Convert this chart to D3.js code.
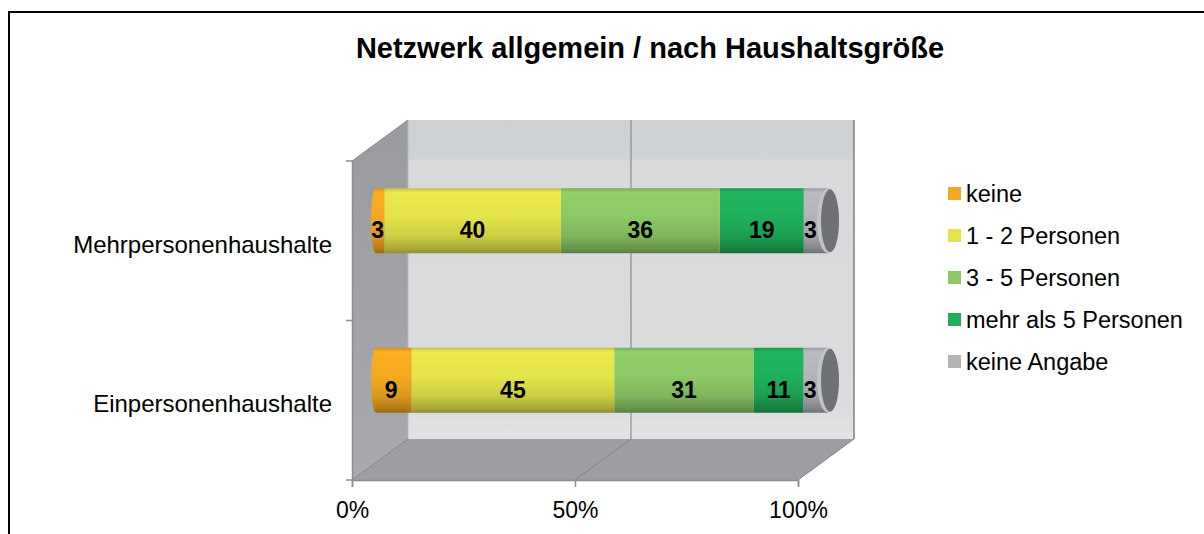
<!DOCTYPE html>
<html>
<head>
<meta charset="utf-8">
<title>Netzwerk allgemein / nach Haushaltsgröße</title>
<script src="https://cdn.jsdelivr.net/npm/d3@7"></script>
<style>
  * { margin: 0; padding: 0; }
  body { background: #fff; }
  svg { display: block; font-family: "Liberation Sans", Arial, sans-serif; }
</style>
</head>
<body>
<script>
//Data
var categories = ["Mehrpersonenhaushalte", "Einpersonenhaushalte"];
var seriesNames = ["keine", "1 - 2 Personen", "3 - 5 Personen", "mehr als 5 Personen", "keine Angabe"];
var keine = [3, 9];
var einsBisZwei = [40, 45];
var dreiBisFuenf = [36, 31];
var mehrAlsFuenf = [19, 11];
var keineAngabe = [3, 3];
var seriesColors = ["#F2A920", "#E3E34B", "#8CC865", "#1FAF5A", "#B2B4B8"];
var xTicks = [0, 0.5, 1];

//Layout
var w = 1204, h = 534;
var front = {left: 352, right: 798, top: 161, bottom: 480}; //front face of the 3d box
var depth = {dx: 56, dy: -41};                               //offset to the back wall
var barDx = 19, barDy = -20, barH = 65, capRx = 11;

//Build table for the stack
var rows = categories.map(function(c, i) {
  var r = {cat: c};
  r[seriesNames[0]] = keine[i];
  r[seriesNames[1]] = einsBisZwei[i];
  r[seriesNames[2]] = dreiBisFuenf[i];
  r[seriesNames[3]] = mehrAlsFuenf[i];
  r[seriesNames[4]] = keineAngabe[i];
  return r;
});
var stacked = d3.stack().keys(seriesNames).offset(d3.stackOffsetExpand)(rows);

//Scales
var xFront = d3.scaleLinear().domain([0, 1]).range([front.left, front.right]);
var xBar = d3.scaleLinear().domain([0, 1]).range([front.left + barDx, front.right + barDx]);
var yBand = d3.scaleBand().domain(categories).range([front.top, front.bottom]);
var color = d3.scaleOrdinal().domain(seriesNames).range(seriesColors);
function barMid(c) { return yBand(c) + yBand.bandwidth() / 2 + barDy; }

var svg = d3.select("body").append("svg")
  .attr("width", w)
  .attr("height", h);

//Gradients
var defs = svg.append("defs");
function vGrad(id, stops) {
  var g = defs.append("linearGradient").attr("id", id)
    .attr("x1", 0).attr("y1", 0).attr("x2", 0).attr("y2", 1);
  stops.forEach(function(s) {
    g.append("stop").attr("offset", s[0]).attr("stop-color", s[1]);
  });
}
vGrad("backWall", [[0, "#CDD0D3"], [0.12, "#D0D3D6"], [0.13, "#D7D9DB"], [0.9, "#DADCDE"], [1, "#E2E3E4"]]);
vGrad("sideWall", [[0, "#9A9B9F"], [1, "#A9AAAE"]]);
seriesColors.forEach(function(c, i) {
  var base = d3.color(c);
  vGrad("cyl" + i, [
    [0, base.darker(0.45)],
    [0.06, base.brighter(0.1)],
    [0.45, base],
    [0.75, base.darker(0.3)],
    [0.93, base.darker(0.85)],
    [1, base.darker(1.3)]
  ]);
});

//3D box
var box = svg.append("g");
var bx0 = front.left + depth.dx, bx1 = front.right + depth.dx;
var by0 = front.top + depth.dy, by1 = front.bottom + depth.dy;
box.append("rect")
  .attr("x", bx0).attr("y", by0)
  .attr("width", bx1 - bx0).attr("height", by1 - by0)
  .attr("fill", "url(#backWall)");
box.append("path")
  .attr("d", "M" + front.left + "," + front.top + "L" + bx0 + "," + by0 + "L" + bx0 + "," + by1 +
    "L" + front.left + "," + front.bottom + "Z")
  .attr("fill", "url(#sideWall)");
box.append("path")
  .attr("d", "M" + front.left + "," + front.bottom + "L" + bx0 + "," + by1 + "L" + bx1 + "," + by1 +
    "L" + front.right + "," + front.bottom + "Z")
  .attr("fill", "#9D9EA2");

//Grid lines on the back wall and the floor
xTicks.forEach(function(t) {
  box.append("line")
    .attr("x1", xFront(t)).attr("y1", front.bottom)
    .attr("x2", xFront(t) + depth.dx).attr("y2", by1)
    .attr("stroke", "#85868A").attr("stroke-width", 1);
  box.append("line")
    .attr("x1", xFront(t) + depth.dx).attr("y1", by0)
    .attr("x2", xFront(t) + depth.dx).attr("y2", by1)
    .attr("stroke", t === 0 ? "#B8B9BC" : "#7E7F83").attr("stroke-width", t === 1 ? 1.5 : 1);
});
box.append("line")
  .attr("x1", front.left).attr("y1", front.top)
  .attr("x2", bx0).attr("y2", by0)
  .attr("stroke", "#8A8B8F");

//X axis
var xAxis = d3.axisBottom(xFront)
  .tickValues(xTicks)
  .tickFormat(d3.format(".0%"))
  .tickSize(7)
  .tickPadding(15);
var gx = svg.append("g")
  .attr("transform", "translate(0," + front.bottom + ")")
  .call(xAxis);
gx.select(".domain").attr("stroke", "#8C8D91").attr("stroke-width", 1.5);
gx.selectAll(".tick line").attr("stroke", "#8C8D91").attr("stroke-width", 1.5);
gx.selectAll(".tick text")
  .attr("font-size", 23)
  .attr("font-family", "Liberation Sans, Arial, sans-serif")
  .attr("fill", "#000");

//Y axis (labels at band centres, ticks at band edges)
var yAxis = d3.axisLeft(yBand).tickSize(0).tickPadding(20);
var gy = svg.append("g")
  .attr("transform", "translate(" + front.left + ",0)")
  .call(yAxis);
gy.select(".domain").attr("stroke", "#8C8D91").attr("stroke-width", 1.5);
gy.selectAll(".tick text")
  .attr("font-size", 24)
  .attr("font-family", "Liberation Sans, Arial, sans-serif")
  .attr("dy", "0.5em")
  .attr("fill", "#000");
var edges = categories.map(function(c) { return yBand(c); }).concat([front.bottom]);
gy.selectAll("line.edge")
  .data(edges)
  .enter()
  .append("line")
  .attr("class", "edge")
  .attr("x1", -6).attr("x2", 0)
  .attr("y1", function(d) { return d; })
  .attr("y2", function(d) { return d; })
  .attr("stroke", "#8C8D91").attr("stroke-width", 1.5);

//Cylinders, drawn right to left
var bars = svg.append("g");
var rx0 = 5;
categories.forEach(function(c, ci) {
  var top = barMid(c) - barH / 2, bot = barMid(c) + barH / 2;
  for (var si = stacked.length - 1; si >= 0; si--) {
    var p = stacked[si][ci];
    var x0 = xBar(p[0]), x1 = xBar(p[1]);
    if (si === stacked.length - 1) x1 += capRx;
    var d;
    if (si === 0) {
      d = "M" + (x0 + rx0) + "," + top + "L" + x1 + "," + top + "L" + x1 + "," + bot +
        "L" + (x0 + rx0) + "," + bot + "A" + rx0 + "," + (barH / 2) + " 0 0 1 " + (x0 + rx0) + "," + top + "Z";
    } else {
      d = "M" + x0 + "," + top + "L" + x1 + "," + top + "L" + x1 + "," + bot + "L" + x0 + "," + bot + "Z";
    }
    bars.append("path").attr("d", d).attr("fill", "url(#cyl" + si + ")");
  }
  //end face
  bars.append("ellipse")
    .attr("cx", xBar(1) + capRx).attr("cy", barMid(c))
    .attr("rx", capRx).attr("ry", barH / 2)
    .attr("fill", "#C3C4C7");
  bars.append("ellipse")
    .attr("cx", xBar(1) + capRx + 2).attr("cy", barMid(c))
    .attr("rx", capRx - 2).attr("ry", barH / 2 - 1)
    .attr("fill", "#6F7175");
});

//Value labels
stacked.forEach(function(s, si) {
  bars.selectAll("text.v" + si)
    .data(s)
    .enter()
    .append("text")
    .attr("class", "v" + si)
    .attr("x", function(d) { return xBar((d[0] + d[1]) / 2); })
    .attr("y", function(d) { return barMid(d.data.cat) + 17.5; })
    .attr("text-anchor", "middle")
    .attr("font-size", 23)
    .attr("font-weight", "bold")
    .attr("fill", "#000")
    .text(function(d) { return d.data[s.key]; });
});

//Legend
var legend = svg.append("g").attr("transform", "translate(948,194)");
var item = legend.selectAll("g")
  .data(seriesNames)
  .enter()
  .append("g")
  .attr("transform", function(d, i) { return "translate(0," + (i * 42) + ")"; });
item.append("rect")
  .attr("x", 0).attr("y", -7)
  .attr("width", 13).attr("height", 13)
  .attr("fill", function(d) { return color(d); });
item.append("text")
  .attr("x", 18).attr("y", 8)
  .attr("font-size", 23.5)
  .attr("fill", "#000")
  .text(function(d) { return d; });

//Title
svg.append("text")
  .attr("x", 650).attr("y", 58)
  .attr("text-anchor", "middle")
  .attr("font-size", 29)
  .attr("font-weight", "bold")
  .attr("fill", "#000")
  .text("Netzwerk allgemein / nach Haushaltsgröße");

//Chart border (runs off the right and bottom)
svg.append("rect")
  .attr("x", 9).attr("y", 12)
  .attr("width", 1210).attr("height", 540)
  .attr("fill", "none")
  .attr("stroke", "#000")
  .attr("stroke-width", 2);
</script>
</body>
</html>
